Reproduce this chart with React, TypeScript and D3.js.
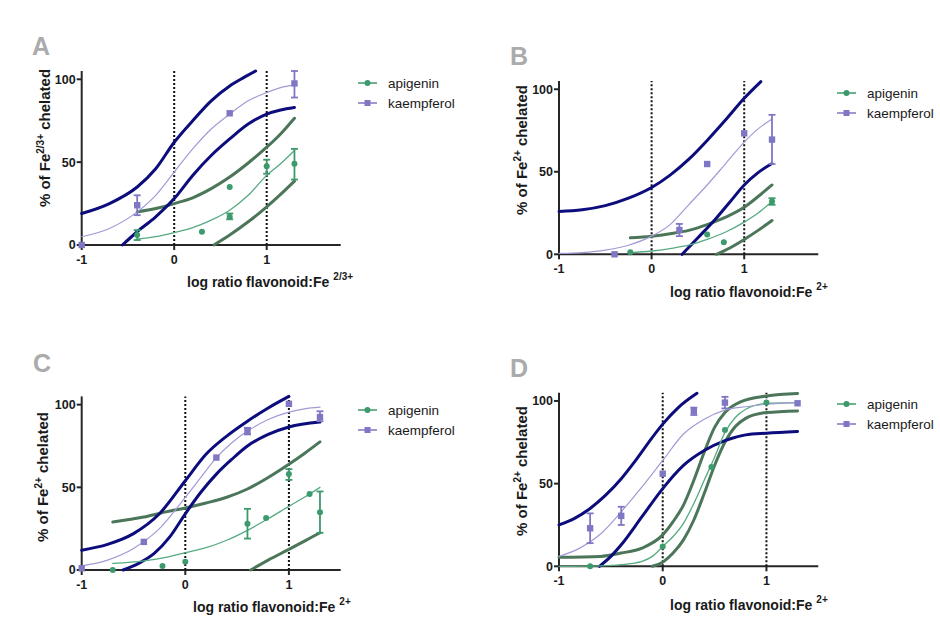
import React from "react";
import * as d3 from "d3";

// observed points: [logRatio, % chelated, errLow?, errHigh?]
type Obs = [number, number, number?, number?];
type Pt = [number, number];

const SERIES = ["apigenin", "kaempferol"];
const X_TICKS = [-1, 0, 1];
const Y_TICKS = [0, 50, 100];
const REF_LINES = [0, 1];

// ---- panel A (Fe 2/3+) ----
const A_API_PTS: Obs[] = [[-0.4, 6, 3, 9], [0.3, 8], [0.6, 35], [0.6, 17, 15.5, 19], [1.0, 47.5, 43, 51.5], [1.3, 49, 39.5, 58]];
const A_KAE_PTS: Obs[] = [[-1, 0], [-0.4, 24, 18, 30], [0.6, 79.5], [1.3, 97.5, 89, 105]];
const A_API_FIT: Pt[] = [[-0.4, 3.5], [-0.2, 5], [0, 7.5], [0.2, 10.5], [0.4, 15], [0.6, 21], [0.8, 30], [1.0, 42], [1.15, 49], [1.3, 57]];
const A_API_HI: Pt[] = [[-0.4, 20], [-0.2, 22], [0, 25], [0.2, 28.5], [0.4, 34], [0.6, 41], [0.8, 49.5], [1.0, 59], [1.15, 67], [1.3, 76.5]];
const A_API_LO: Pt[] = [[0.43, 0], [0.6, 6], [0.8, 14], [1.0, 23], [1.15, 30.5], [1.3, 38.5]];
const A_KAE_FIT: Pt[] = [[-1, 5], [-0.7, 10], [-0.4, 20], [-0.2, 30], [0, 44], [0.2, 58], [0.4, 70], [0.6, 79], [0.8, 87], [1.0, 92], [1.15, 95], [1.3, 96.5]];
const A_KAE_HI: Pt[] = [[-1, 19], [-0.7, 25], [-0.4, 35], [-0.2, 46], [0, 62], [0.2, 75], [0.4, 87], [0.6, 96], [0.75, 101], [0.88, 105]];
const A_KAE_LO: Pt[] = [[-0.56, 0], [-0.4, 8], [-0.2, 17], [0, 28], [0.2, 42], [0.4, 54], [0.6, 64], [0.8, 73], [1.0, 79], [1.15, 81.5], [1.3, 83]];

// ---- panel B ----
const B_API_PTS: Obs[] = [[-0.23, 1.2], [0.6, 12], [0.78, 7.3], [1.3, 32, 30, 34]];
const B_KAE_PTS: Obs[] = [[-0.4, 0], [0.3, 14.7, 11, 18.4], [0.6, 54.7], [1.0, 73.3], [1.3, 69.5, 54.7, 84.5]];
const B_API_FIT: Pt[] = [[-0.23, 1], [0, 2], [0.2, 3.5], [0.4, 5.5], [0.6, 9], [0.8, 13.5], [1.0, 19.5], [1.15, 25], [1.3, 32]];
const B_API_HI: Pt[] = [[-0.23, 10], [0, 11], [0.2, 12.5], [0.4, 14.5], [0.6, 18], [0.8, 22.5], [1.0, 28.5], [1.15, 35], [1.3, 42]];
const B_API_LO: Pt[] = [[0.7, 0], [0.85, 4], [1.0, 9], [1.15, 14.5], [1.3, 20.5]];
const B_KAE_FIT: Pt[] = [[-1, 0.5], [-0.75, 1], [-0.5, 2.5], [-0.25, 5.5], [0, 11], [0.2, 18], [0.4, 30], [0.6, 42], [0.8, 55], [1.0, 68], [1.15, 76], [1.3, 82]];
const B_KAE_HI: Pt[] = [[-1, 26], [-0.75, 27], [-0.5, 29.5], [-0.25, 34], [0, 40.5], [0.2, 48], [0.4, 57.5], [0.6, 69], [0.8, 81.5], [1.0, 94.5], [1.18, 104.6]];
const B_KAE_LO: Pt[] = [[0.33, 0], [0.5, 10], [0.7, 22], [0.85, 32], [1.0, 42], [1.15, 49.5], [1.3, 55]];

// ---- panel C ----
const C_API_PTS: Obs[] = [[-0.7, 0], [-0.22, 2.4], [0, 5], [0.6, 28, 19, 37], [0.78, 31.5], [1.0, 58, 54.5, 61], [1.2, 46], [1.3, 35, 22.5, 47.5]];
const C_KAE_PTS: Obs[] = [[-1, 1], [-0.4, 17], [0.3, 68], [0.6, 84, 82, 86], [1.0, 100.5], [1.3, 92.5, 90, 96]];
const C_API_FIT: Pt[] = [[-0.7, 4], [-0.4, 5.5], [-0.2, 7.5], [0, 10.5], [0.2, 13.5], [0.4, 18], [0.6, 24], [0.8, 31], [1.0, 38.5], [1.15, 44], [1.3, 50]];
const C_API_HI: Pt[] = [[-0.7, 29], [-0.4, 32], [-0.2, 35], [0, 37.5], [0.2, 40.5], [0.4, 44], [0.6, 49], [0.8, 56], [1.0, 64], [1.15, 70.5], [1.3, 77.5]];
const C_API_LO: Pt[] = [[0.63, 0], [0.8, 6], [1.0, 12.5], [1.15, 17.5], [1.3, 22.5]];
const C_KAE_FIT: Pt[] = [[-1, 2.5], [-0.75, 6], [-0.5, 13], [-0.25, 25], [0, 44], [0.15, 56], [0.3, 68], [0.45, 77], [0.6, 84], [0.8, 91], [1.0, 95.5], [1.15, 97.5], [1.3, 98.5]];
const C_KAE_HI: Pt[] = [[-1, 12], [-0.75, 15.5], [-0.5, 22], [-0.25, 34], [0, 54], [0.2, 70], [0.4, 81], [0.6, 90], [0.8, 98], [1.0, 105]];
const C_KAE_LO: Pt[] = [[-0.6, 0], [-0.45, 4], [-0.3, 10], [-0.15, 20], [0, 34], [0.15, 47], [0.3, 58], [0.45, 67], [0.6, 75], [0.8, 82], [1.0, 86.5], [1.3, 89.5]];

// ---- panel D ----
const D_API_PTS: Obs[] = [[-0.7, 0], [0, 12], [0.47, 60], [0.6, 82.5], [1.0, 99]];
const D_KAE_PTS: Obs[] = [[-0.7, 23, 14, 32], [-0.4, 30.5, 25, 36], [0, 56], [0.3, 94, 91.5, 96], [0.6, 99, 95.5, 102.5], [1.3, 98.6]];
const D_API_FIT: Pt[] = [[-1, 0], [-0.6, 0.3], [-0.4, 1], [-0.2, 3], [-0.1, 6], [0, 12], [0.1, 18], [0.2, 26], [0.3, 38], [0.4, 52], [0.5, 66], [0.6, 81], [0.7, 90], [0.8, 95], [1.0, 98.5], [1.3, 99]];
const D_API_HI: Pt[] = [[-1, 5.5], [-0.6, 6], [-0.4, 8], [-0.2, 11], [0, 19], [0.1, 27], [0.2, 37], [0.3, 52], [0.4, 69], [0.5, 84], [0.6, 93], [0.75, 99.5], [1.0, 103], [1.3, 104.5]];
const D_API_LO: Pt[] = [[-0.1, 0], [0, 2.5], [0.1, 8], [0.2, 16], [0.3, 28], [0.4, 44], [0.5, 61], [0.6, 75], [0.7, 84.5], [0.8, 89.5], [1.0, 93], [1.3, 94]];
const D_KAE_FIT: Pt[] = [[-1, 6], [-0.8, 11], [-0.6, 19.5], [-0.4, 33], [-0.2, 48], [0, 64], [0.2, 80], [0.4, 89], [0.6, 94.5], [0.8, 96.5], [1.0, 98], [1.3, 99]];
const D_KAE_HI: Pt[] = [[-1, 25], [-0.85, 29], [-0.7, 35], [-0.55, 43], [-0.4, 53], [-0.25, 65], [-0.1, 78], [0, 86], [0.15, 96], [0.33, 104.6]];
const D_KAE_LO: Pt[] = [[-0.61, 0], [-0.5, 6], [-0.4, 13], [-0.2, 30], [0, 47], [0.2, 61], [0.4, 70], [0.6, 76], [0.8, 79.5], [1.0, 80.5], [1.3, 81.5]];

const NAVY = "#0c0c7c";
const BAND_GREEN = "#4b7659";
const API_COLOR = "#3c9a6c";
const API_LINE = "#56aa80";
const KAE_COLOR = "#7f77c3";
const KAE_LINE = "#a19bd6";
const FONT = "'Liberation Sans', Arial, sans-serif";

const panels = [
  {
    letter: "A", letterX: 32, letterY: 55, sup: "2/3+",
    xMax: 1.8, xRange: [81.7, 340.7], yRange: [245, 71],
    yTitle: [50, 138], xTitle: [187, 287], legend: [358, 83],
    api: A_API_PTS, kae: A_KAE_PTS,
    apiFit: A_API_FIT, apiHi: A_API_HI, apiLo: A_API_LO,
    kaeFit: A_KAE_FIT, kaeHi: A_KAE_HI, kaeLo: A_KAE_LO,
  },
  {
    letter: "B", letterX: 510, letterY: 65, sup: "2+",
    xMax: 1.8, xRange: [559, 818.3], yRange: [254.3, 81],
    yTitle: [527, 150], xTitle: [670, 297], legend: [837, 93],
    api: B_API_PTS, kae: B_KAE_PTS,
    apiFit: B_API_FIT, apiHi: B_API_HI, apiLo: B_API_LO,
    kaeFit: B_KAE_FIT, kaeHi: B_KAE_HI, kaeLo: B_KAE_LO,
  },
  {
    letter: "C", letterX: 33, letterY: 372, sup: "2+",
    xMax: 1.5, xRange: [81.7, 340.7], yRange: [570, 396.4],
    yTitle: [48, 477], xTitle: [193, 612], legend: [358, 410],
    api: C_API_PTS, kae: C_KAE_PTS,
    apiFit: C_API_FIT, apiHi: C_API_HI, apiLo: C_API_LO,
    kaeFit: C_KAE_FIT, kaeHi: C_KAE_HI, kaeLo: C_KAE_LO,
  },
  {
    letter: "D", letterX: 510, letterY: 377, sup: "2+",
    xMax: 1.5, xRange: [559, 818.3], yRange: [566.3, 392.7],
    yTitle: [527, 471], xTitle: [670, 610], legend: [837, 404],
    api: D_API_PTS, kae: D_KAE_PTS,
    apiFit: D_API_FIT, apiHi: D_API_HI, apiLo: D_API_LO,
    kaeFit: D_KAE_FIT, kaeHi: D_KAE_HI, kaeLo: D_KAE_LO,
  },
];

function Panel({ p }: { p: any }) {
  const x = d3.scaleLinear().domain([-1, p.xMax]).range(p.xRange);
  const y = d3.scaleLinear().domain([0, 105]).range(p.yRange);
  const line = d3
    .line<Pt>()
    .x((d) => x(d[0]))
    .y((d) => y(d[1]))
    .curve(d3.curveMonotoneX);
  const [x0, x1] = p.xRange;
  const [yb, yt] = p.yRange;

  const errBars = (pts: Obs[], color: string) =>
    pts
      .filter((d) => d[2] != null)
      .map((d, i) => (
        <g key={i} stroke={color} strokeWidth={1.8}>
          <line x1={x(d[0])} x2={x(d[0])} y1={y(d[2]!)} y2={y(d[3]!)} />
          <line x1={x(d[0]) - 3.5} x2={x(d[0]) + 3.5} y1={y(d[2]!)} y2={y(d[2]!)} />
          <line x1={x(d[0]) - 3.5} x2={x(d[0]) + 3.5} y1={y(d[3]!)} y2={y(d[3]!)} />
        </g>
      ));

  return (
    <g fontFamily={FONT}>
      <text x={p.letterX} y={p.letterY} fontSize={25} fontWeight="bold" fill="#ababab">
        {p.letter}
      </text>

      {/* axes */}
      <g stroke="#262626" strokeWidth={2} fill="none">
        <line x1={x0} x2={x0} y1={yb + 1} y2={yt} />
        <line x1={x0 - 1} x2={x1} y1={yb} y2={yb} />
        {Y_TICKS.map((t) => (
          <line key={t} x1={x0 - 5} x2={x0} y1={y(t)} y2={y(t)} />
        ))}
        {X_TICKS.map((t) => (
          <line key={t} x1={x(t)} x2={x(t)} y1={yb} y2={yb + 5} />
        ))}
      </g>
      {Y_TICKS.map((t) => (
        <text key={t} x={x0 - 6} y={y(t)} dy="0.35em" textAnchor="end" fontSize={12.5} fontWeight="bold" fill="#1a1a1a">
          {t}
        </text>
      ))}
      {X_TICKS.map((t) => (
        <text key={t} x={x(t)} y={yb + 19} textAnchor="middle" fontSize={12.5} fontWeight="bold" fill="#1a1a1a">
          {t}
        </text>
      ))}

      {REF_LINES.map((t) => (
        <line key={t} x1={x(t)} x2={x(t)} y1={yb} y2={yt} stroke="#111" strokeWidth={2} strokeDasharray="2,2" />
      ))}

      {/* confidence bands and fits */}
      <g fill="none" strokeLinecap="round">
        <path d={line(p.apiHi)!} stroke={BAND_GREEN} strokeWidth={3} />
        <path d={line(p.apiLo)!} stroke={BAND_GREEN} strokeWidth={3} />
        <path d={line(p.kaeHi)!} stroke={NAVY} strokeWidth={3} />
        <path d={line(p.kaeLo)!} stroke={NAVY} strokeWidth={3} />
        <path d={line(p.apiFit)!} stroke={API_LINE} strokeWidth={1.3} />
        <path d={line(p.kaeFit)!} stroke={KAE_LINE} strokeWidth={1.2} />
      </g>

      {errBars(p.api, API_COLOR)}
      {errBars(p.kae, KAE_COLOR)}
      {p.api.map((d: Obs, i: number) => (
        <circle key={i} cx={x(d[0])} cy={y(d[1])} r={3} fill={API_COLOR} />
      ))}
      {p.kae.map((d: Obs, i: number) => (
        <rect key={i} x={x(d[0]) - 3.2} y={y(d[1]) - 3.2} width={6.4} height={6.4} fill={KAE_COLOR} />
      ))}

      {/* axis titles */}
      <text transform={`translate(${p.yTitle[0]},${p.yTitle[1]}) rotate(-90)`} textAnchor="middle" fontSize={15} fontWeight="bold" fill="#1a1a1a">
        % of Fe
        <tspan dy={-6} fontSize={10}>{p.sup}</tspan>
        <tspan dy={6}> chelated</tspan>
      </text>
      <text x={p.xTitle[0]} y={p.xTitle[1]} fontSize={14} fontWeight="bold" fill="#1a1a1a">
        log ratio flavonoid:Fe
        <tspan dx={4} dy={-7} fontSize={10}>{p.sup}</tspan>
      </text>

      {/* legend */}
      {SERIES.map((s, i) => {
        const ly = p.legend[1] + i * 20;
        const lx = p.legend[0];
        const c = i === 0 ? API_COLOR : KAE_COLOR;
        return (
          <g key={s}>
            <line x1={lx} x2={lx + 19} y1={ly} y2={ly} stroke={c} strokeWidth={1.5} />
            {i === 0 ? (
              <circle cx={lx + 9.5} cy={ly} r={3} fill={c} />
            ) : (
              <rect x={lx + 6.5} y={ly - 3} width={6} height={6} fill={c} />
            )}
            <text x={lx + 30} y={ly} dy="0.35em" fontSize={13.5} fill="#1a1a1a">
              {s}
            </text>
          </g>
        );
      })}
    </g>
  );
}

export default function App() {
  return (
    <svg width={940} height={626} style={{ position: "absolute", left: 0, top: 0, background: "#fff" }}>
      {panels.map((p) => (
        <Panel key={p.letter} p={p} />
      ))}
    </svg>
  );
}
